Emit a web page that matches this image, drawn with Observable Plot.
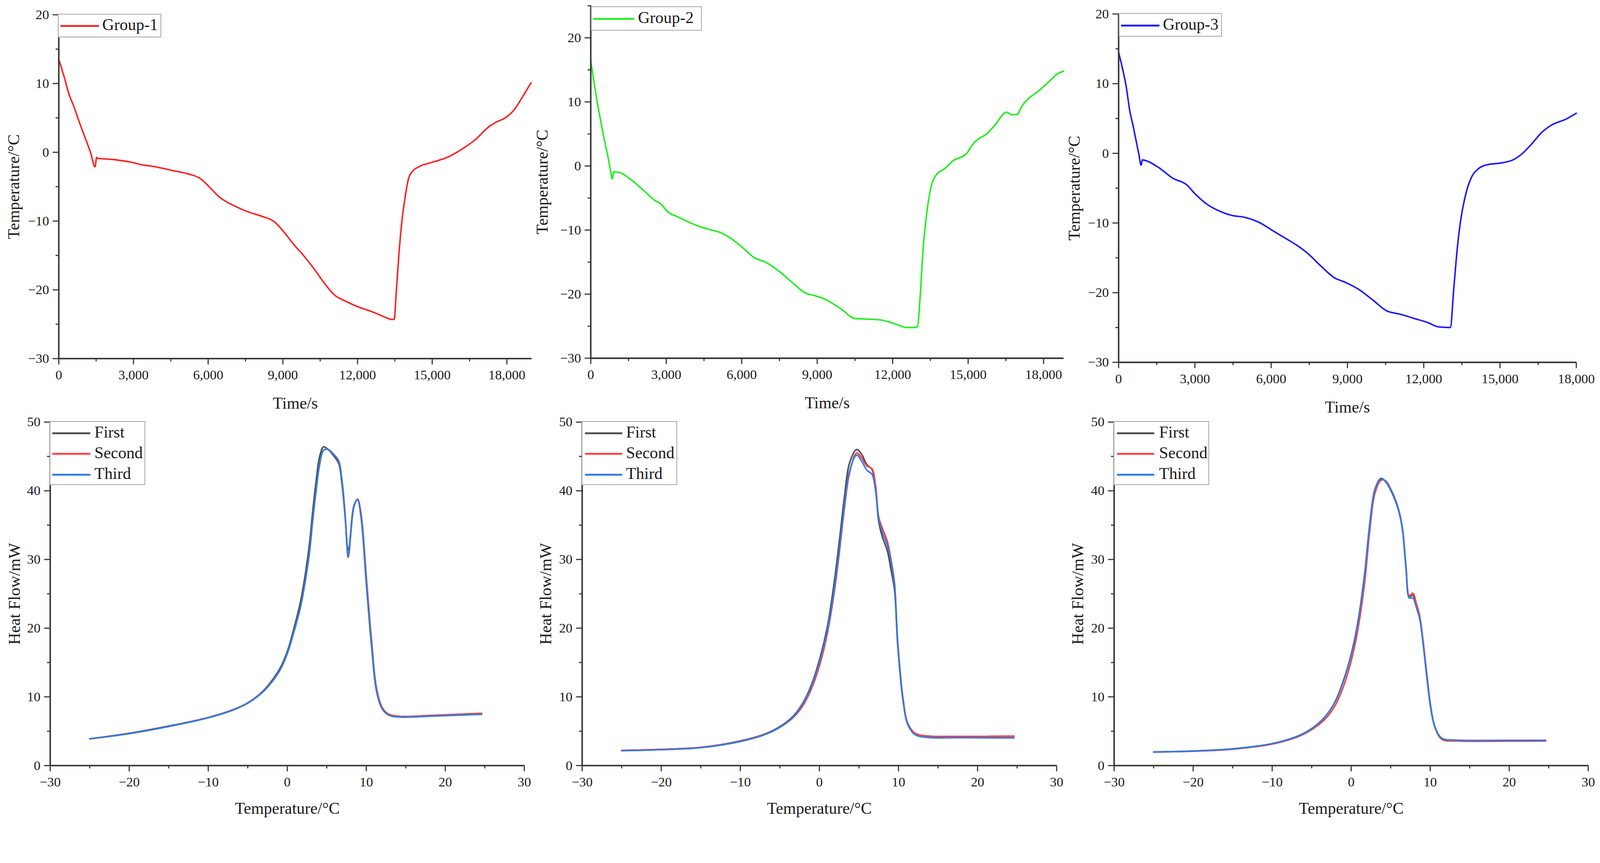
<!DOCTYPE html>
<html>
<head>
<meta charset="utf-8">
<script src="https://cdn.jsdelivr.net/npm/d3@7"></script>
<script src="https://cdn.jsdelivr.net/npm/@observablehq/plot@0.6"></script>
<style>
  html, body { margin: 0; padding: 0; background: #fff; overflow: hidden; }
  #root { position: relative; width: 4286px; height: 2209px; background: #fff; overflow: hidden; font-family: "Liberation Serif", "DejaVu Serif", serif; transform-origin: 0 0; }
  .panel { position: absolute; }
  .panel svg { max-width: none !important; }
  .legend { position: absolute; box-sizing: border-box; border: 2px solid #a0a0a0; background: #fff; }
  .lrow { position: absolute; left: 0; height: 0; }
  .lline { position: absolute; height: 5px; margin-top: -2.5px; }
  .ltext { position: absolute; font-size: 44px; line-height: 44px; margin-top: -24px; color: #1a1a1a; white-space: nowrap; }
</style>
</head>
<body>
<div id="root"></div>
<script>
// ---------- Top row: temperature vs time ----------
const g1Time = [0,208,415,623,803,1038,1274,1454,1523,1560,2215,2977,3323,3877,4569,5261,5676,6022,6438,7060,7614,8168,8653,9000,9415,9830,10245,10661,11076,11492,12045,12599,13153,13360,13470,13567,13678,13775,13913,14051,14190,14467,14952,15644,16198,16752,17305,17582,17928,18274,18620,18966];
const g1Temp = [13.5,11.05,8.4,6.5,4.6,2.3,0.0,-2.1,-0.75,-0.87,-1.06,-1.5,-1.8,-2.1,-2.66,-3.2,-3.8,-4.94,-6.47,-7.8,-8.67,-9.32,-10.08,-11.4,-13.3,-15.0,-16.9,-19.0,-20.75,-21.6,-22.5,-23.2,-24.05,-24.3,-24.3,-19.8,-14.1,-10.3,-6.5,-3.8,-2.85,-2.1,-1.5,-0.68,0.46,1.9,3.8,4.4,5.0,6.1,8.0,10.1];

const g2Time = [0,137,274,412,549,686,782,850,919,1166,1578,2127,2538,2812,3018,3498,4184,4733,5076,5487,5968,6517,6929,7477,8026,8575,8849,9261,9947,10496,11043,11592,12141,12552,12895,12991,13101,13211,13348,13512,13718,14061,14472,14609,14952,15158,15432,15706,16049,16529,16735,16941,17146,17421,17764,18175,18518,18793];
const g2Temp = [16.4,12.9,9.6,6.7,3.9,1.4,-0.64,-2.0,-0.9,-1.05,-2.07,-3.9,-5.35,-6.0,-7.0,-8.0,-9.24,-9.93,-10.26,-11.08,-12.5,-14.36,-14.97,-16.4,-18.25,-19.9,-20.17,-20.7,-22.3,-23.8,-23.9,-24.06,-24.7,-25.2,-25.2,-25.0,-19.9,-12.9,-7.6,-3.5,-1.46,-0.43,1.0,1.2,2.0,3.25,4.3,4.9,6.3,8.4,8.0,8.05,9.4,10.6,11.6,13.0,14.3,14.8];

const g3Time = [0,163,298,434,570,705,800,882,936,1180,1587,2129,2672,3011,3485,4028,4435,4977,5520,6062,6469,7012,7419,7961,8503,8910,9453,9995,10538,11080,11623,12165,12572,13046,13182,13318,13453,13657,13860,14132,14539,15013,15556,15827,16234,16640,17047,17590,18000];
const g3Temp = [14.5,12.0,9.6,6.2,3.95,1.5,-0.2,-1.7,-0.94,-1.2,-2.07,-3.57,-4.5,-5.83,-7.33,-8.38,-8.9,-9.2,-9.9,-11.1,-12.0,-13.2,-14.3,-16.2,-17.9,-18.5,-19.55,-21.05,-22.6,-23.1,-23.7,-24.3,-24.9,-25.0,-19.4,-13.7,-9.6,-5.8,-3.57,-2.26,-1.6,-1.4,-0.86,-0.19,1.3,3.0,4.1,4.9,5.75];

const timeMajorTicks = [0,3000,6000,9000,12000,15000,18000];
const timeMinorTicks = [1500,4500,7500,10500,13500,16500];
const tempMajorTicks = [-30,-20,-10,0,10,20];
const tempMinorTicks = [-25,-15,-5,5,15,25];

// ---------- Bottom row: heat flow vs temperature ----------
const dsc1Temp   = [-25,-20,-15,-10,-6.6,-4.9,-3.1,-1.8,-0.9,0,0.8,1.7,2.3,2.8,3.2,3.65,4.1,4.6,5.2,5.8,6.5,6.9,7.35,7.55,7.7,7.85,8.0,8.45,8.9,9.35,10.0,10.65,11.3,12.0,12.8,14.4,18.3,24.6];
const dsc1First  = [3.9,4.7,5.75,7.0,8.25,9.2,10.8,12.6,14.2,16.6,19.8,24.0,28.0,32.2,36.8,41.4,45.0,46.4,46.0,45.2,44.0,41.2,35.8,32.6,31.3,31.8,33.6,37.9,38.7,36.0,26.6,17.6,10.8,8.3,7.45,7.15,7.3,7.6];
const dsc1Second = [3.9,4.65,5.7,6.96,8.2,9.15,10.7,12.4,13.95,16.3,19.3,23.2,27.0,30.9,35.4,40.0,43.8,45.9,46.0,45.4,44.4,41.8,36.2,32.0,30.3,31.2,33.2,37.7,38.8,36.6,27.6,18.5,11.3,8.5,7.5,7.15,7.3,7.6];
const dsc1Third  = [3.88,4.65,5.69,6.96,8.2,9.15,10.7,12.4,13.95,16.3,19.3,23.2,27.0,30.9,35.5,40.1,43.9,45.9,46.0,45.4,44.3,41.6,36.0,32.1,30.4,31.3,33.3,37.8,38.7,36.2,27.0,17.8,10.9,8.3,7.35,7.05,7.2,7.45];

const dsc2Temp   = [-25,-20,-15,-10,-6.9,-5.1,-3.4,-2.1,-1.0,0.1,1.0,1.85,2.5,3.15,3.8,4.7,5.35,6.0,6.65,7.1,7.5,7.95,8.6,9.05,9.5,9.9,10.6,11.2,12.1,13.6,18,24.6];
const dsc2First  = [2.2,2.35,2.65,3.6,4.6,5.6,7.1,9.1,11.8,15.8,20.2,26.5,32.5,39.0,44.0,46.0,45.3,43.8,43.1,40.3,35.5,33.3,31.2,28.5,25.5,17.5,9.2,6.0,4.7,4.3,4.25,4.27];
const dsc2Second = [2.2,2.35,2.65,3.55,4.55,5.5,6.9,8.7,11.2,14.9,19.2,25.0,30.8,37.3,42.5,45.5,44.8,43.6,43.2,40.8,36.2,34.6,32.6,30.0,26.6,18.2,9.6,6.1,4.7,4.3,4.25,4.27];
const dsc2Third  = [2.15,2.3,2.6,3.5,4.5,5.5,7.0,9.0,11.6,15.5,19.7,25.5,31.2,37.8,42.8,45.2,44.3,43.0,42.4,40.0,35.9,34.0,32.0,29.7,26.2,17.8,9.3,5.9,4.5,4.1,4.05,4.02];

const dsc3Temp   = [-25,-20,-15,-10,-6.85,-5.1,-3.35,-2.0,-0.95,-0.05,0.8,1.7,2.35,3.0,3.75,4.3,5.2,6.05,6.5,6.95,7.35,7.8,8.25,8.7,9.1,9.55,10.1,10.65,11.5,13.3,19.8,24.6];
const dsc3First  = [1.98,2.12,2.44,3.2,4.25,5.3,7.05,9.4,12.5,16.0,20.6,27.9,35.2,40.2,41.8,41.4,39.6,36.9,34.2,28.5,24.6,24.8,23.2,21.3,17.8,13.1,8.1,5.4,3.95,3.7,3.66,3.66];
const dsc3Second = [1.96,2.08,2.38,3.12,4.15,5.15,6.7,8.8,11.6,15.0,19.5,26.6,34.2,39.6,41.5,41.5,39.8,37.1,34.5,28.9,24.7,25.1,23.6,21.6,18.2,13.6,8.4,5.4,3.8,3.58,3.55,3.57];
const dsc3Third  = [1.96,2.11,2.42,3.19,4.23,5.3,7.03,9.34,12.4,15.9,20.5,27.8,35.1,40.1,41.7,41.4,39.7,37.0,34.3,28.6,24.4,24.4,23.0,21.2,17.8,13.2,8.2,5.5,3.96,3.7,3.65,3.66];

const tMajorTicks  = [-30,-20,-10,0,10,20,30];
const tMinorTicks  = [-25,-15,-5,5,15,25];
const hfMajorTicks = [0,10,20,30,40,50];
const hfMinorTicks = [5,15,25,35,45];

const runNames  = ["First","Second","Third"];
const runColors = ["#4d4d4d","#ff4040","#2e7be6"];
const groupNames  = ["Group-1","Group-2","Group-3"];
const groupColors = ["#ff2020","#1ef01e","#1818ff"];

// ---------- helpers ----------
const FONT = '"Liberation Serif", "DejaVu Serif", serif';
const AX = "#333";
const fmtNum = d => (d < 0 ? "\u2212" + d3.format(",")(-d) : d3.format(",")(d));
const root = document.getElementById("root");

function fitRoot() {
  const s = Math.min(window.innerWidth / 4286, window.innerHeight / 2209);
  root.style.transform = Math.abs(s - 1) > 0.002 ? `scale(${s})` : "none";
}
fitRoot();
window.addEventListener("resize", fitRoot);

function toRows(xs, ys) { return xs.map((x, i) => ({x, y: ys[i]})); }

function panel(o) {
  const marks = [
    Plot.axisX({ticks: o.xMajor, tickSize: 16, tickPadding: 14, tickFormat: fmtNum, label: null, stroke: AX, strokeWidth: 3, fill: "#1a1a1a", fontSize: 36}),
    Plot.axisX({ticks: o.xMinor, tickSize: 8, tickFormat: () => "", label: null, stroke: AX, strokeWidth: 3}),
    Plot.axisY({ticks: o.yMajor, tickSize: 16, tickPadding: 10, tickFormat: fmtNum, label: null, stroke: AX, strokeWidth: 3, fill: "#1a1a1a", fontSize: 36}),
    Plot.axisY({ticks: o.yMinor, tickSize: 8, tickFormat: () => "", label: null, stroke: AX, strokeWidth: 3}),
  ];
  o.series.forEach(s => {
    marks.push(Plot.line(toRows(s.x, s.y), {x: "x", y: "y", stroke: s.color, strokeWidth: 4, curve: o.curve, strokeLinejoin: "round"}));
  });
  marks.push(
    Plot.ruleX([o.xDomain[0]], {stroke: AX, strokeWidth: 4}),
    Plot.ruleY([o.yDomain[0]], {stroke: AX, strokeWidth: 4}),
    Plot.text([o.xLabel], {text: d => d, frameAnchor: "bottom", dy: o.xLabelOffset, lineAnchor: "middle", textAnchor: "middle", fontSize: 44, fill: "#1a1a1a"}),
    Plot.text([o.yLabel], {text: d => d, frameAnchor: "left", dx: -o.yLabelOffset, rotate: -90, lineAnchor: "middle", textAnchor: "middle", fontSize: 44, fill: "#1a1a1a"})
  );
  const svg = Plot.plot({
    width: o.width, height: o.height,
    marginTop: o.mt, marginRight: o.mr, marginBottom: o.mb, marginLeft: o.ml,
    x: {domain: o.xDomain}, y: {domain: o.yDomain},
    style: {fontFamily: FONT, fontSize: "36px", background: "transparent", overflow: "visible", color: "#1a1a1a", maxWidth: "none"},
    marks
  });
  const div = document.createElement("div");
  div.className = "panel";
  div.style.left = o.left + "px";
  div.style.top = o.top + "px";
  div.style.width = o.width + "px";
  div.appendChild(svg);
  root.appendChild(div);

  // legend (HTML overlay inside the plot frame)
  const L = o.legend;
  const box = document.createElement("div");
  box.className = "legend";
  box.style.left = L.left + "px"; box.style.top = L.top + "px";
  box.style.width = L.width + "px"; box.style.height = L.height + "px";
  L.items.forEach((it, i) => {
    const row = document.createElement("div");
    row.className = "lrow";
    row.style.top = L.rows[i] + "px";
    const ln = document.createElement("div");
    ln.className = "lline";
    ln.style.left = L.lineX + "px"; ln.style.width = L.lineW + "px"; ln.style.background = it.color;
    const tx = document.createElement("div");
    tx.className = "ltext";
    tx.style.left = L.textX + "px";
    tx.textContent = it.name;
    row.appendChild(ln); row.appendChild(tx);
    box.appendChild(row);
  });
  root.appendChild(box);
}

// ---------- top row ----------
const topCommon = {top: 0, height: 1110, xMajor: timeMajorTicks, xMinor: timeMinorTicks, yMajor: tempMajorTicks, curve: "monotone-x", xLabel: "Time/s", yLabel: "Temperature/\u00b0C", xLabelOffset: 120};

panel({...topCommon, left: 0, width: 1440, ml: 157, mr: 16, mt: 39, mb: 150,
  xDomain: [0, 19000], yDomain: [-30, 20], yMinor: tempMinorTicks.filter(d => d <= 20), yLabelOffset: 120,
  series: [{x: g1Time, y: g1Temp, color: groupColors[0]}],
  legend: {left: 155, top: 37, width: 277, height: 63, rows: [30], lineX: 5, lineW: 103, textX: 117,
           items: [{name: groupNames[0], color: groupColors[0]}]}});

panel({...topCommon, left: 1440, width: 1430, ml: 142, mr: 21, mt: 15, mb: 151,
  xDomain: [0, 18800], yDomain: [-30, 25], yMinor: tempMinorTicks, yLabelOffset: 130,
  series: [{x: g2Time, y: g2Temp, color: groupColors[1]}],
  legend: {left: 1583, top: 17, width: 297, height: 65, rows: [31], lineX: 4, lineW: 110, textX: 124,
           items: [{name: groupNames[1], color: groupColors[1]}]}});

panel({...topCommon, left: 2870, width: 1416, ml: 126, mr: 64, mt: 37, mb: 140,
  xDomain: [0, 18000], yDomain: [-30, 20], yMinor: tempMinorTicks.filter(d => d <= 20), yLabelOffset: 118,
  series: [{x: g3Time, y: g3Temp, color: groupColors[2]}],
  legend: {left: 2997, top: 35, width: 276, height: 63, rows: [31], lineX: 4, lineW: 103, textX: 116,
           items: [{name: groupNames[2], color: groupColors[2]}]}});

// ---------- bottom row ----------
const botCommon = {top: 1100, height: 1109, mt: 30, mb: 159, xDomain: [-30, 30], yDomain: [0, 50],
  xMajor: tMajorTicks, xMinor: tMinorTicks, yMajor: hfMajorTicks, yMinor: hfMinorTicks, curve: "catmull-rom",
  xLabel: "Temperature/\u00b0C", yLabel: "Heat Flow/mW", xLabelOffset: 115};
const runItems = runNames.map((n, i) => ({name: n, color: runColors[i]}));

panel({...botCommon, left: 0, width: 1440, ml: 134, mr: 36, yLabelOffset: 95,
  series: [{x: dsc1Temp, y: dsc1First, color: runColors[0]}, {x: dsc1Temp, y: dsc1Second, color: runColors[1]}, {x: dsc1Temp, y: dsc1Third, color: runColors[2]}],
  legend: {left: 133, top: 1128, width: 256, height: 171, rows: [30, 85, 141], lineX: 5, lineW: 102, textX: 118, items: runItems}});

panel({...botCommon, left: 1440, width: 1430, ml: 119, mr: 40, yLabelOffset: 97,
  series: [{x: dsc2Temp, y: dsc2First, color: runColors[0]}, {x: dsc2Temp, y: dsc2Second, color: runColors[1]}, {x: dsc2Temp, y: dsc2Third, color: runColors[2]}],
  legend: {left: 1558, top: 1128, width: 256, height: 171, rows: [30, 85, 141], lineX: 7, lineW: 100, textX: 117, items: runItems}});

panel({...botCommon, left: 2870, width: 1416, ml: 114, mr: 32, yLabelOffset: 97,
  series: [{x: dsc3Temp, y: dsc3First, color: runColors[0]}, {x: dsc3Temp, y: dsc3Second, color: runColors[1]}, {x: dsc3Temp, y: dsc3Third, color: runColors[2]}],
  legend: {left: 2983, top: 1128, width: 256, height: 171, rows: [30, 85, 141], lineX: 7, lineW: 100, textX: 120, items: runItems}});
</script>
</body>
</html>
